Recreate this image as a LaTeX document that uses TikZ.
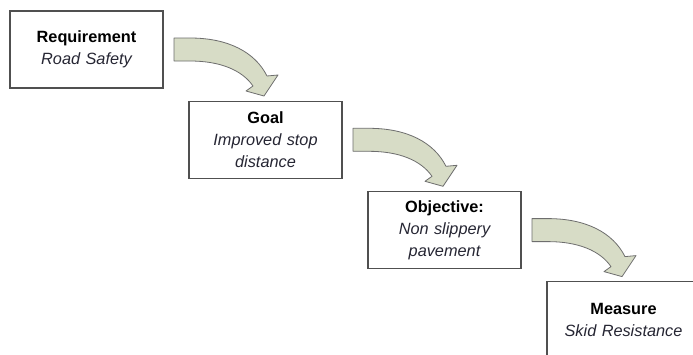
\documentclass[tikz,border=0pt]{standalone}
\usepackage{fontspec}
\setmainfont{Liberation Sans}
\definecolor{boxline}{HTML}{505050}
\definecolor{arrowfill}{HTML}{D7DCC6}
\definecolor{arrowline}{HTML}{6E6E6E}
\definecolor{subtext}{HTML}{262633}
\tikzset{
  stagebox/.style={draw=boxline, line width=1.1pt, fill=white,
    minimum width=153pt, minimum height=77pt, text width=150pt,
    align=center, inner sep=0pt,
    font=\fontsize{16.3pt}{22pt}\selectfont},
  bendarrow/.style={fill=arrowfill, draw=arrowline, line width=0.8pt, line join=round}
}
\newcommand{\stagetext}[2]{\textbf{#1}\\{\color{subtext}\itshape #2}}
% curved block arrow, drawn relative to the centre of the box it leaves
\newcommand{\bentarrow}[1]{%
  \begin{scope}[shift={(#1.center)}]
    \path[bendarrow] (87.5,-11.5) -- (103.5,-11.5)
      .. controls (141.5,-11.5) and (168.5,2.5) .. (180.5,26.5)
      -- (191.5,25.5) -- (177.5,46.5) -- (159.5,41.5) -- (166.5,36.5)
      .. controls (155.5,20.5) and (133.5,11.5) .. (103.5,11.5)
      -- (87.5,11.5) -- cycle;
  \end{scope}}
\begin{document}
\begin{tikzpicture}[x=1pt, y=-1pt]
  \useasboundingbox (0,0) rectangle (693,354);
  \fill[white] (0,0) rectangle (693,354);
  \clip (0,0) rectangle (693,354);
  \node[stagebox] (req) at (86.5,49.5)  {\stagetext{Requirement}{Road Safety}};
  \node[stagebox] (goal) at (265.5,139.8) {\stagetext{Goal}{Improved stop\\distance}};
  \node[stagebox] (obj) at (444.5,230.1) {\stagetext{Objective:}{Non slippery\\pavement}};
  \node[stagebox] (meas) at (623.5,320.4) {\stagetext{Measure}{Skid Resistance}};
  \bentarrow{req}
  \bentarrow{goal}
  \bentarrow{obj}
\end{tikzpicture}
\end{document}
